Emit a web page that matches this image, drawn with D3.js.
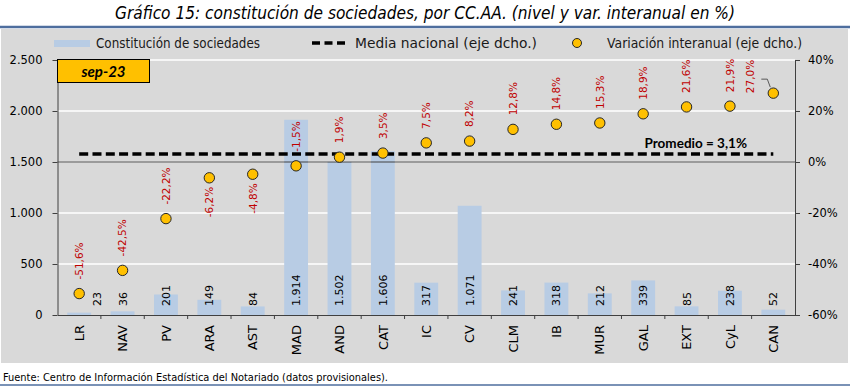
<!DOCTYPE html>
<html>
<head>
<meta charset="utf-8">
<script src="https://cdn.jsdelivr.net/npm/d3@7"></script>
<style>
body { margin: 0; background: #fff; }
svg text { font-family: "DejaVu Sans", sans-serif; }
.narrow { font-family: "Liberation Sans Narrow", "Arial Narrow", "DejaVu Sans Condensed", sans-serif; }
.leg { font-family: Lato, "Open Sans", sans-serif; }
.axis path, .axis line { stroke: #404040; }
.axis text { fill: #000; }
</style>
</head>
<body>
<svg id="chart" width="850" height="386"></svg>
<script>
var regions = ["LR", "NAV", "PV", "ARA", "AST", "MAD", "AND", "CAT", "IC", "CV", "CLM", "IB", "MUR", "GAL", "EXT", "CyL", "CAN"];
var sociedades = [23, 36, 201, 149, 84, 1914, 1502, 1606, 317, 1071, 241, 318, 212, 339, 85, 238, 52];
var variacion = [-51.6, -42.5, -22.2, -6.2, -4.8, -1.5, 1.9, 3.5, 7.5, 8.2, 12.8, 14.8, 15.3, 18.9, 21.6, 21.9, 27.0];
var mediaNacional = 3.1;
var leftTicks = [0, 500, 1000, 1500, 2000, 2500];
var rightTicks = [-60, -40, -20, 0, 20, 40];
var legendLabels = ["Constitución de sociedades", "Media nacional (eje dcho.)", "Variación interanual (eje dcho.)"];
var periodo = "sep-23";
var titulo = "Gráfico 15: constitución de sociedades, por CC.AA. (nivel y var. interanual en %)";
var fuente = "Fuente: Centro de Información Estadística del Notariado (datos provisionales).";

var data = regions.map(function(r, i) {
    return {region: r, soc: sociedades[i], vari: variacion[i]};
});

var es = d3.formatLocale({decimal: ",", thousands: ".", grouping: [3], currency: ["", " €"], minus: "-"});
var fmtInt = es.format(",d");
var fmtPct = es.format(".1f");

var svg = d3.select("#chart");

// fondo y titulo
svg.append("rect").attr("x", 1).attr("y", 29).attr("width", 847).attr("height", 334).attr("fill", "#d9d9d9");
svg.append("text").attr("class", "narrow").attr("x", 425).attr("y", 19)
    .attr("text-anchor", "middle").style("font-style", "italic").style("font-size", "17px")
    .attr("textLength", 620).attr("lengthAdjust", "spacingAndGlyphs")
    .text(titulo);
svg.append("line").attr("x1", 0).attr("x2", 850).attr("y1", 27).attr("y2", 27)
    .attr("stroke", "#4e6e9e").attr("stroke-width", 2.5);
svg.append("text").attr("class", "narrow").attr("x", 3).attr("y", 381)
    .style("font-size", "11px").attr("textLength", 385).attr("lengthAdjust", "spacingAndGlyphs")
    .text(fuente);
svg.append("line").attr("x1", 0).attr("x2", 850).attr("y1", 385).attr("y2", 385)
    .attr("stroke", "#4e6e9e").attr("stroke-width", 1.5);

var plotL = 57.5, plotR = 795, plotT = 60, plotB = 315;

var x = d3.scaleBand().domain(regions).range([plotL, plotR]).paddingInner(0.45).paddingOuter(0.225);
var yL = d3.scaleLinear().domain([0, 2500]).range([plotB, plotT]);
var yR = d3.scaleLinear().domain([-60, 40]).range([plotB, plotT]);
var cx = function(r) { return x(r) + x.bandwidth() / 2; };

// rejilla
svg.append("g").selectAll("line").data(leftTicks.filter(function(d) { return d > 0; }))
    .enter().append("line")
    .attr("x1", plotL).attr("x2", plotR)
    .attr("y1", function(d) { return yL(d); }).attr("y2", function(d) { return yL(d); })
    .attr("stroke", "#fff").attr("stroke-width", 1.3);

// barras
svg.append("g").selectAll("rect").data(data).enter().append("rect")
    .attr("x", function(d) { return x(d.region); })
    .attr("width", x.bandwidth())
    .attr("y", function(d) { return yL(d.soc); })
    .attr("height", function(d) { return yL(0) - yL(d.soc); })
    .attr("fill", "#b8cce4");

// linea 0%
svg.append("line").attr("x1", plotL).attr("x2", plotR)
    .attr("y1", yR(0)).attr("y2", yR(0)).attr("stroke", "#404040").attr("stroke-width", 1);

// ejes
svg.append("g").attr("class", "axis").attr("transform", "translate(" + plotL + ",0)")
    .call(d3.axisLeft(yL).tickValues(leftTicks).tickSize(5).tickSizeOuter(0).tickPadding(10).tickFormat(fmtInt))
    .selectAll("text").style("font-size", "11.5px");

svg.append("g").attr("class", "axis").attr("transform", "translate(" + plotR + ",0)")
    .call(d3.axisRight(yR).tickValues(rightTicks).tickSize(5).tickSizeOuter(0).tickPadding(8)
        .tickFormat(function(d) { return fmtPct(d).replace(",0", "") + "%"; }))
    .selectAll("text").style("font-size", "11.5px");

var xAxis = svg.append("g").attr("class", "axis").attr("transform", "translate(0," + plotB + ")")
    .call(d3.axisBottom(x).tickSize(0).tickSizeOuter(0));
xAxis.selectAll("text")
    .attr("transform", "rotate(-90)")
    .attr("text-anchor", "end")
    .attr("x", -10).attr("y", 0).attr("dy", "0.36em")
    .style("font-size", "13px");

// marcas entre categorias
var bounds = regions.slice(1).map(function(r) { return x(r) - x.step() * x.paddingInner() / 2; });
xAxis.selectAll(".sep").data(bounds).enter().append("line").attr("class", "sep")
    .attr("x1", function(d) { return d; }).attr("x2", function(d) { return d; })
    .attr("y1", 0).attr("y2", 4);

// etiquetas de barras
svg.append("g").selectAll("text").data(data).enter().append("text")
    .attr("transform", function(d) {
        var shift = d.region === "LR" ? 18 : 0;
        return "translate(" + (cx(d.region) + shift) + "," + (yL(0) - 9) + ") rotate(-90)";
    })
    .attr("dy", "0.36em")
    .style("font-size", "11px").attr("fill", "#000")
    .text(function(d) { return fmtInt(d.soc); });

// media nacional
svg.append("line")
    .attr("x1", cx(regions[0])).attr("x2", cx(regions[regions.length - 1]))
    .attr("y1", yR(mediaNacional)).attr("y2", yR(mediaNacional))
    .attr("stroke", "#000").attr("stroke-width", 3.5).attr("stroke-dasharray", "9,4.3");
svg.append("text").attr("class", "leg")
    .attr("x", 747).attr("y", yR(mediaNacional) - 6)
    .attr("text-anchor", "end").style("font-weight", "bold").style("font-size", "13.5px")
    .text("Promedio = " + fmtPct(mediaNacional) + "%");

// puntos de variacion
svg.append("g").selectAll("circle").data(data).enter().append("circle")
    .attr("cx", function(d) { return cx(d.region); })
    .attr("cy", function(d) { return yR(d.vari); })
    .attr("r", 5.2)
    .attr("fill", "#ffc000").attr("stroke", "#262626").attr("stroke-width", 1);

var below = {ARA: true, AST: true};
svg.append("g").selectAll("text").data(data).enter().append("text")
    .attr("transform", function(d) {
        var px = cx(d.region), py = yR(d.vari);
        if (d.region === "CAN") { px -= 23; py -= 0; }
        else if (below[d.region]) py += 9;
        else py -= 14;
        return "translate(" + px + "," + py + ") rotate(-90)";
    })
    .attr("text-anchor", function(d) { return below[d.region] ? "end" : "start"; })
    .attr("dy", "0.36em")
    .style("font-size", "10.5px").attr("fill", "#c00000")
    .text(function(d) { return fmtPct(d.vari) + "%"; });

// linea guia de CAN
var can = data[data.length - 1];
svg.append("path")
    .attr("d", "M" + (cx(can.region) - 12) + "," + (yR(can.vari) - 14) + "h6l3,8")
    .attr("fill", "none").attr("stroke", "#595959").attr("stroke-width", 1);

// recuadro del periodo
svg.append("rect").attr("x", plotL).attr("y", 59.5).attr("width", 92).attr("height", 23)
    .attr("fill", "#ffc000").attr("stroke", "#000").attr("stroke-width", 1);
svg.append("text").attr("class", "leg").attr("x", plotL + 46).attr("y", 76.5)
    .attr("text-anchor", "middle").style("font-weight", "bold").style("font-style", "italic")
    .style("font-size", "15px").text(periodo);

// leyenda
var leg = svg.append("g").attr("class", "leg");
leg.append("rect").attr("x", 54).attr("y", 40).attr("width", 36).attr("height", 7).attr("fill", "#b8cce4");
leg.append("line").attr("x1", 312).attr("x2", 345).attr("y1", 43).attr("y2", 43)
    .attr("stroke", "#000").attr("stroke-width", 3.5).attr("stroke-dasharray", "8,4.5");
leg.append("circle").attr("cx", 577).attr("cy", 43).attr("r", 4.5)
    .attr("fill", "#ffc000").attr("stroke", "#262626");
leg.selectAll("text").data(legendLabels).enter().append("text")
    .attr("x", function(d, i) { return [96, 355, 607][i]; })
    .attr("y", 47.5)
    .attr("textLength", function(d, i) { return [164, 182, 195][i]; })
    .attr("lengthAdjust", "spacingAndGlyphs")
    .style("font-size", "13.5px").attr("fill", "#1a1a1a")
    .text(function(d) { return d; });
</script>
</body>
</html>
